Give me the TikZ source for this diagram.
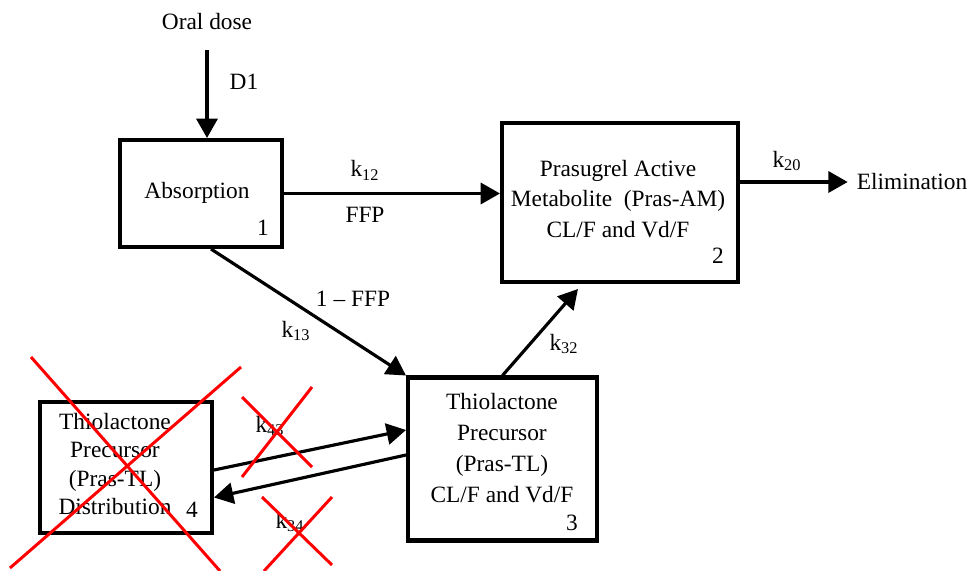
\documentclass[tikz,border=0pt]{standalone}
\usepackage{fontspec}
\setmainfont{Liberation Serif}
\usetikzlibrary{arrows.meta}
\tikzset{
  box/.style={draw, line width=2.3pt, inner sep=0pt},
  txt/.style={align=center, font=\fontsize{13.3}{17.5}\selectfont, inner sep=2pt},
  arr/.style={line width=1.8pt, -{Triangle[length=11pt,width=12pt]}},
  strike/.style={red, line width=1.7pt}
}
\begin{document}
\begin{tikzpicture}[x=0.02cm, y=-0.02cm]
            \useasboundingbox (0,0) rectangle (968,571);
            % Compartments
            \node[box, minimum width=3.24cm, minimum height=2.14cm] (absorp) at (201,193.5) {};
            \node[box, minimum width=4.72cm, minimum height=3.18cm] (active) at (620,202.5) {};
            \node[box, minimum width=3.78cm, minimum height=3.26cm] (thio) at (502.5,459) {};
            \node[box, minimum width=3.44cm, minimum height=2.62cm] (distr) at (126,467.5) {};
            % Texts in the boxes
            \node[txt] (absorptxt) at (197,193) {Absorption};
            \node[txt] (activetxt) at (618,199) {Prasugrel Active\\Metabolite\ \ (Pras-AM)\\CL/F and Vd/F};
            \node[txt] (thiotxt) at (502,448) {Thiolactone\\Precursor\\(Pras-TL)\\CL/F and Vd/F};
            \node[txt, font=\fontsize{13.3}{16}\selectfont] (distrtxt) at (115,464) {Thiolactone\\Precursor\\(Pras-TL)\\Distribution};
            \node[txt] (num1) at (263,228) {1};
            \node[txt] (num2) at (718,256) {2};
            \node[txt] (num3) at (572,523) {3};
            \node[txt] (num4) at (192,510) {4};
            % Outside labels
            \node[txt] (oral) at (207,22) {Oral dose};
            \node[txt, anchor=west] (elim) at (853,182) {Elimination};
            \node[txt] (d1) at (244,82) {D1};
            \node[txt] (k12) at (365,170) {k\textsubscript{12}};
            \node[txt] (ffp) at (365,215) {FFP};
            \node[txt] (ffp2) at (353,299) {1 -- FFP};
            \node[txt] (k13) at (296,331) {k\textsubscript{13}};
            \node[txt] (k32) at (564,344) {k\textsubscript{32}};
            \node[txt] (k20) at (787,161) {k\textsubscript{20}};
            \node[txt] (k43) at (270,426) {k\textsubscript{43}};
            \node[txt] (k34) at (290,522) {k\textsubscript{34}};
            \coordinate (k32end) at (578,289);
            % Transfers
            \draw[arr] ([yshift=-9pt]oral.south) -- (oral.south |- absorp.north);
            \draw[arr] (absorp.east) -- (active.west |- absorp.east);
            \draw[arr] ([xshift=0.2cm]absorp.south) -- (thio.north west);
            \draw[arr] (thio.north) -- (k32end);
            \draw[arr] (active.east |- elim.west) -- ([xshift=-3pt]elim.west);
            \draw[arr] ([yshift=-0.05cm]distr.east) -- ([yshift=0.58cm]thio.west);
            \draw[arr] ([yshift=0.08cm]thio.west) -- ([yshift=-0.6cm]distr.east);
            % Struck out
            \draw[strike] (31,357) -- (220,571);
            \draw[strike] (241,367) -- (10,568);
            \draw[strike] (242,397) -- (312,467);
            \draw[strike] (312,387) -- (242,477);
            \draw[strike] (262,497) -- (332,565);
            \draw[strike] (332,497) -- (264,571);
          \end{tikzpicture}
\end{document}
